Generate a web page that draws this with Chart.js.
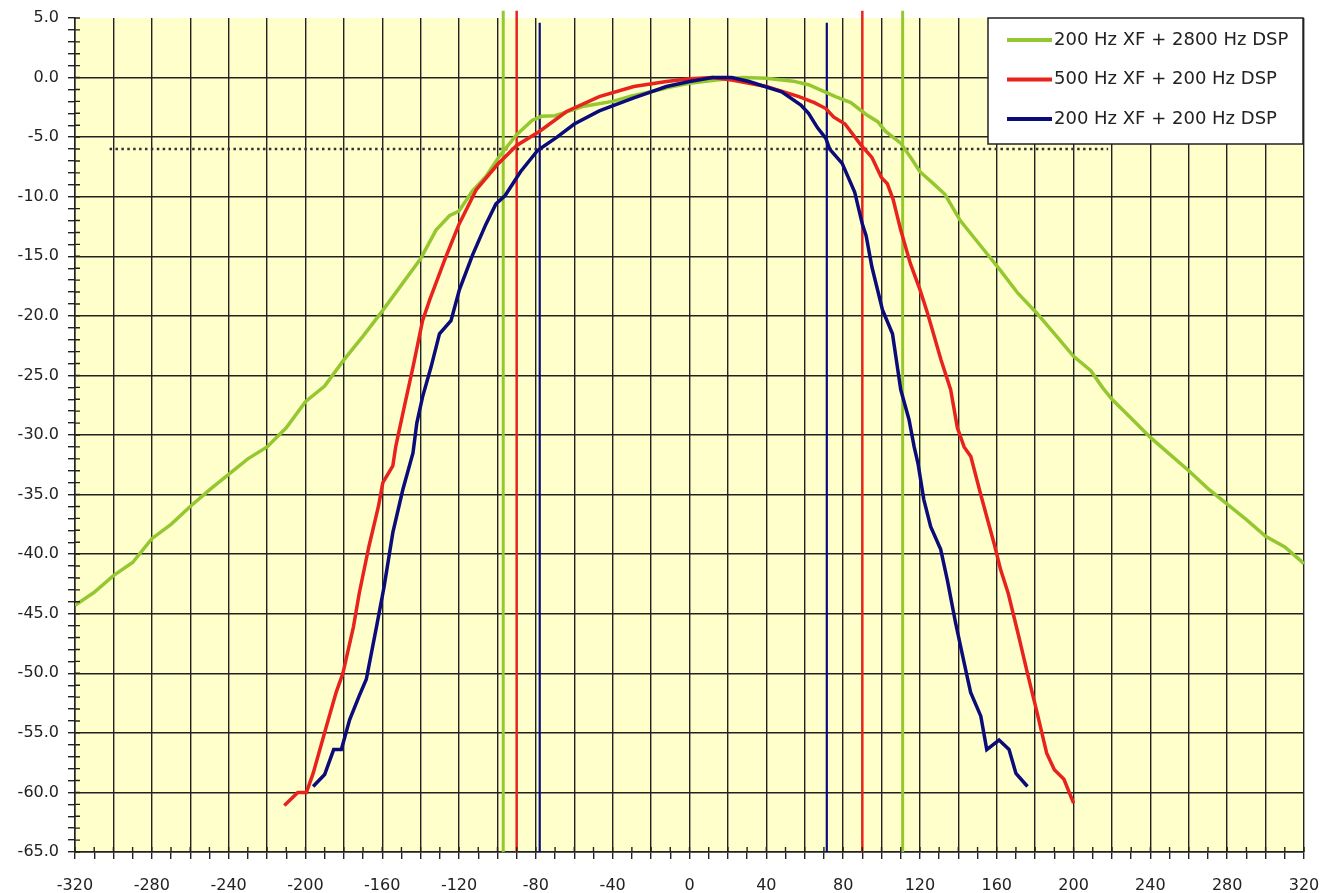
<!DOCTYPE html>
<html>
<head>
<meta charset="utf-8">
<script src="https://cdn.jsdelivr.net/npm/chart.js@4.4.1/dist/chart.umd.min.js"></script>
<style>
  html, body { margin: 0; padding: 0; background: #fff; }
  #wrap { width: 1325px; height: 893px; }
</style>
</head>
<body>
<div id="wrap"><canvas id="grafico" width="1325" height="893"></canvas></div>
<script>
// curvas (Hz x dB)
const greenLabel = '200 Hz XF + 2800 Hz DSP';
const greenX = [-320, -310, -300, -290, -280, -270, -260, -250, -240, -230, -220, -210, -200, -190, -180, -170, -160, -150, -140, -132, -125, -120, -113, -106, -99, -90, -82, -77, -70, -55, -40, -30, -19, -10, 0, 14, 28, 40, 54, 62, 69, 76, 84, 92, 98, 102, 110, 116, 120, 127, 133, 141, 152, 162, 171, 181, 190, 200, 209, 215, 220, 230, 240, 250, 260, 270, 280, 290, 300, 310, 320];
const greenY = [-44.3, -43.2, -41.8, -40.7, -38.7, -37.5, -36.0, -34.6, -33.3, -32.0, -31.0, -29.4, -27.2, -25.9, -23.7, -21.7, -19.6, -17.4, -15.2, -12.8, -11.6, -11.2, -9.5, -8.3, -6.6, -4.8, -3.6, -3.25, -3.2, -2.4, -2.0, -1.55, -1.15, -0.8, -0.47, -0.2, 0, -0.05, -0.3, -0.6, -1.1, -1.6, -2.1, -3.1, -3.7, -4.5, -5.5, -6.9, -7.9, -8.9, -9.8, -12.0, -14.2, -16.2, -18.1, -19.8, -21.5, -23.4, -24.6, -26.0, -27.0, -28.6, -30.2, -31.6, -33.0, -34.5, -35.8, -37.1, -38.5, -39.4, -40.8];

const redLabel = '500 Hz XF + 200 Hz DSP';
const redX = [-211, -204, -199.5, -196, -189, -184, -180.5, -175, -172, -167, -162, -159.7, -154.5, -153, -149.3, -144, -139, -135.4, -127, -120, -111, -100, -90, -78, -64, -47, -29, -12, 0, 12, 22, 40, 57, 65, 71, 75, 81, 89, 95, 100, 103, 106, 108, 110, 115, 120, 124, 131, 136, 139.5, 143, 146.5, 152, 158.6, 162, 166, 171, 176, 181, 186, 190, 195, 200];
const redY = [-61.1, -60.0, -60.0, -58.4, -54.4, -51.6, -50.0, -46.1, -43.3, -39.4, -36.0, -34.0, -32.6, -31.0, -28.2, -24.3, -20.4, -18.7, -15.1, -12.3, -9.4, -7.3, -5.7, -4.5, -2.85, -1.6, -0.75, -0.33, -0.1, 0, -0.2, -0.75, -1.6, -2.1, -2.6, -3.3, -3.9, -5.6, -6.7, -8.4, -8.9, -10.2, -11.5, -12.8, -15.6, -17.8, -19.8, -23.7, -26.2, -29.4, -31.0, -31.8, -35.2, -39.1, -41.3, -43.3, -46.6, -50.0, -53.3, -56.7, -58.1, -58.9, -60.9];

const blueLabel = '200 Hz XF + 200 Hz DSP';
const blueX = [-196, -190, -185.3, -181.3, -177, -172, -168.3, -163, -159, -154.5, -149.3, -144, -142, -139, -134.6, -130.2, -124.2, -119.8, -113, -106, -100.8, -96, -88, -79, -69, -60, -47, -29, -12, 0, 12, 22, 31, 48, 58, 62, 66.6, 71, 73, 79.5, 86, 90, 92, 95, 100.5, 105.7, 110, 114.3, 117, 119, 122, 125.6, 130.8, 134.3, 138.6, 143, 146.4, 151.7, 154.8, 161.2, 166.4, 170, 176];
const blueY = [-59.5, -58.5, -56.4, -56.4, -53.9, -51.9, -50.5, -46.1, -42.7, -38.2, -34.6, -31.5, -29.0, -26.8, -24.3, -21.5, -20.4, -17.8, -14.9, -12.3, -10.6, -9.9, -7.9, -6.1, -5.0, -3.9, -2.8, -1.7, -0.75, -0.33, 0, 0, -0.33, -1.2, -2.3, -3.0, -4.2, -5.1, -6.0, -7.2, -9.6, -12.3, -13.3, -15.9, -19.5, -21.5, -26.2, -28.7, -31.0, -32.4, -35.4, -37.7, -39.6, -42.2, -45.8, -49.1, -51.6, -53.6, -56.4, -55.6, -56.4, -58.4, -59.5];

// pontos de -6 dB (linhas verticais) e nível de referência
const greenMarkX = [-97, 111];
const redMarkX = [-90, 90];
const blueMarkX = [-78, 71.5];
const refLevel = -6;
const refLineX = [-302, 218];

const greenColor = '#95c830';
const redColor = '#e8231e';
const blueColor = '#0b0b7a';

function pontos(xs, ys) {
    return xs.map((x, i) => ({ x: x, y: ys[i] }));
}

// cada linha vertical vai de -65 até um pouco acima do topo
function marcador(x, topo) {
    return [{ x: x, y: -65 }, { x: x, y: topo }];
}

const datasets = [
    { label: greenLabel, data: pontos(greenX, greenY), borderColor: greenColor, borderWidth: 3.5, order: 3 },
    { label: redLabel, data: pontos(redX, redY), borderColor: redColor, borderWidth: 3.5, order: 2 },
    { label: blueLabel, data: pontos(blueX, blueY), borderColor: blueColor, borderWidth: 3.5, order: 1 },
    { data: refLineX.map(x => ({ x: x, y: refLevel })), borderColor: '#333', borderWidth: 2.5, borderDash: [2.5, 3.4], order: 4 }
];
greenMarkX.forEach(x => datasets.push({ data: marcador(x, 5.6), borderColor: greenColor, borderWidth: 3, order: 5, clip: false }));
redMarkX.forEach(x => datasets.push({ data: marcador(x, 5.6), borderColor: redColor, borderWidth: 2.5, order: 5, clip: false }));
blueMarkX.forEach(x => datasets.push({ data: marcador(x, 4.6), borderColor: blueColor, borderWidth: 2.2, order: 5, clip: false }));

// fundo amarelo da área do gráfico
const fundoPlot = {
    id: 'fundoPlot',
    beforeDraw(chart) {
        const { ctx, chartArea: a } = chart;
        ctx.save();
        ctx.fillStyle = '#ffffcc';
        ctx.fillRect(a.left, a.top, a.right - a.left, a.bottom - a.top);
        ctx.restore();
    }
};

// marcas dos eixos cruzando para dentro da área
const marcasInternas = {
    id: 'marcasInternas',
    afterDatasetsDraw(chart) {
        const { ctx, chartArea: a, scales } = chart;
        ctx.save();
        ctx.strokeStyle = '#222';
        ctx.lineWidth = 1.4;
        ctx.beginPath();
        scales.y.ticks.forEach(t => {
            const py = scales.y.getPixelForValue(t.value);
            ctx.moveTo(a.left, py);
            ctx.lineTo(a.left + 5, py);
        });
        scales.x.ticks.forEach(t => {
            const px = scales.x.getPixelForValue(t.value);
            ctx.moveTo(px, a.bottom);
            ctx.lineTo(px, a.bottom - 5);
        });
        ctx.stroke();
        ctx.restore();
    }
};

// legenda com caixa, canto superior direito
const legendaBox = {
    id: 'legendaBox',
    afterDraw(chart) {
        const { ctx, chartArea: a } = chart;
        const w = 315, h = 126;
        const x0 = a.right - w - 1, y0 = a.top;
        ctx.save();
        ctx.fillStyle = '#fff';
        ctx.fillRect(x0, y0, w, h);
        ctx.strokeStyle = '#222';
        ctx.lineWidth = 1.5;
        ctx.strokeRect(x0, y0, w, h);
        ctx.font = '18px "DejaVu Sans"';
        ctx.textBaseline = 'middle';
        chart.data.datasets.slice(0, 3).forEach((ds, i) => {
            const yy = y0 + 22 + i * 39.5;
            ctx.strokeStyle = ds.borderColor;
            ctx.lineWidth = 4;
            ctx.beginPath();
            ctx.moveTo(x0 + 19, yy);
            ctx.lineTo(x0 + 64, yy);
            ctx.stroke();
            ctx.fillStyle = '#222';
            ctx.fillText(ds.label, x0 + 66, yy);
        });
        ctx.restore();
    }
};

const ctx = document.getElementById('grafico').getContext('2d');
const myChart = new Chart(ctx, {
    type: 'line',
    data: { datasets: datasets },
    plugins: [fundoPlot, marcasInternas, legendaBox],
    options: {
        responsive: false,
        animation: false,
        layout: { padding: { top: 18, right: 21, left: 0, bottom: 0 } },
        elements: { point: { radius: 0 }, line: { tension: 0 } },
        plugins: { legend: { display: false }, tooltip: { enabled: false } },
        scales: {
            x: {
                type: 'linear',
                min: -320,
                max: 320,
                afterFit(s) {
                    s.height = 41;
                    s.paddingLeft = 0;
                    s.paddingRight = 0;
                },
                ticks: {
                    stepSize: 10,
                    autoSkip: false,
                    maxRotation: 0,
                    padding: 17,
                    color: '#222',
                    font: { family: 'DejaVu Sans', size: 16 },
                    callback: v => (Math.round(v) % 40 === 0 ? String(Math.round(v)) : '')
                },
                grid: {
                    color: c => (c.tick && Math.round(c.tick.value) % 20 === 0) ? '#222' : 'rgba(0,0,0,0)',
                    tickColor: '#222',
                    tickLength: 7,
                    lineWidth: 1.4
                },
                border: { color: '#222', width: 1.5 }
            },
            y: {
                min: -65,
                max: 5,
                afterFit(s) {
                    s.width = 75;
                    s.paddingTop = 0;
                    s.paddingBottom = 0;
                },
                ticks: {
                    stepSize: 1,
                    autoSkip: false,
                    padding: 9,
                    color: '#222',
                    font: { family: 'DejaVu Sans', size: 16 },
                    callback: v => (Math.round(v) % 5 === 0 ? Math.round(v).toFixed(1) : '')
                },
                grid: {
                    color: c => (c.tick && Math.round(c.tick.value) % 5 === 0 && Math.round(c.tick.value) !== 5) ? '#222' : 'rgba(0,0,0,0)',
                    tickColor: '#222',
                    tickLength: 7,
                    lineWidth: 1.4
                },
                border: { color: '#222', width: 1.5 }
            }
        }
    }
});
</script>
</body>
</html>
